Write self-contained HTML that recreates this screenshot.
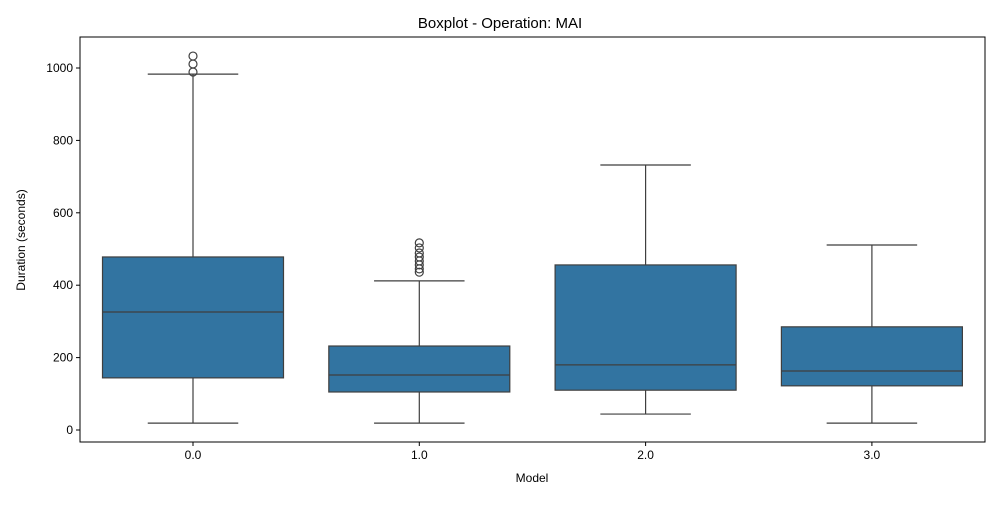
<!DOCTYPE html>
<html><head><meta charset="utf-8"><style>
body{margin:0;background:#fff;font-family:"Liberation Sans",sans-serif}
</style></head><body>
<svg id="c" width="1000" height="500" xmlns="http://www.w3.org/2000/svg" font-family="Liberation Sans, sans-serif"></svg>
<script>
const categories=["0.0","1.0","2.0","3.0"];
const q1=[144,105,110,122];
const median=[326,152,180,163];
const q3=[478,232,456,285];
const whiskLow=[19,19,44,19];
const whiskHigh=[983,412,732,511];
const outliers=[[1033,1011,989],[517,503,489,478,467,456,445,436],[],[]];
const yTicks=[0,200,400,600,800,1000];
const L=80,R=985,T=37,B=442;
const y=v=>430-v*0.362;
const x=i=>193+i*226.3;
const bw=181;
const svg=document.getElementById('c');
const NS='http://www.w3.org/2000/svg';
function mk(t,a,p){const e=document.createElementNS(NS,t);for(const k in a)e.setAttribute(k,a[k]);(p||svg).appendChild(e);return e;}
let e;
e=mk('text',{x:500,y:28,'text-anchor':'middle','font-size':15,fill:'#000'});e.textContent='Boxplot - Operation: MAI';


yTicks.forEach(v=>{
 e=mk('line',{x1:L-4,x2:L,y1:y(v),y2:y(v),stroke:'#000'});
 e=mk('text',{x:L-7,y:y(v)+4,'text-anchor':'end','font-size':12});e.textContent=v;
 
 
});
categories.forEach((c,i)=>{
 const cx=x(i);
 e=mk('line',{x1:cx,x2:cx,y1:B,y2:B+4,stroke:'#000'});
 e=mk('text',{x:cx,y:B+17,'text-anchor':'middle','font-size':12});e.textContent=c;
 
 
 const g=mk('g',{});
 
 
 mk('line',{x1:cx,x2:cx,y1:y(q3[i]),y2:y(whiskHigh[i]),stroke:'#3f3f3f','stroke-width':1.2},g);
 mk('line',{x1:cx,x2:cx,y1:y(q1[i]),y2:y(whiskLow[i]),stroke:'#3f3f3f','stroke-width':1.2},g);
 mk('line',{x1:cx-bw/4,x2:cx+bw/4,y1:y(whiskHigh[i]),y2:y(whiskHigh[i]),stroke:'#3f3f3f','stroke-width':1.2},g);
 mk('line',{x1:cx-bw/4,x2:cx+bw/4,y1:y(whiskLow[i]),y2:y(whiskLow[i]),stroke:'#3f3f3f','stroke-width':1.2},g);
 mk('rect',{x:cx-bw/2,y:y(q3[i]),width:bw,height:y(q1[i])-y(q3[i]),fill:'#3274a1',stroke:'#3f3f3f','stroke-width':1.2},g);
 mk('line',{x1:cx-bw/2,x2:cx+bw/2,y1:y(median[i]),y2:y(median[i]),stroke:'#3f3f3f','stroke-width':1.2},g);
 outliers[i].forEach(v=>{mk('circle',{cx:cx,cy:y(v),r:4,fill:'none',stroke:'#3f3f3f','stroke-width':1.2},g);});
});
e=mk('rect',{x:L,y:T,width:R-L,height:B-T,fill:'none',stroke:'#000','stroke-width':1});


e=mk('text',{x:532,y:482,'text-anchor':'middle','font-size':12});e.textContent='Model';


e=mk('text',{x:25,y:240,'text-anchor':'middle','font-size':12,transform:'rotate(-90 25 240)'});e.textContent='Duration (seconds)';


</script>
</body></html>
